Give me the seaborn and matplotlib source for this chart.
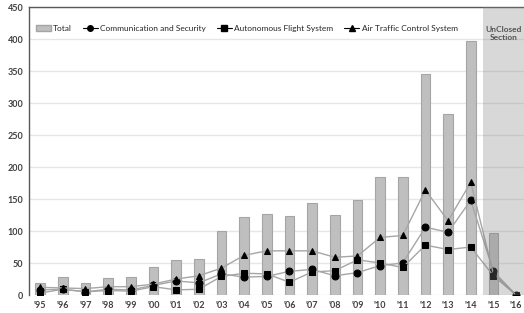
import numpy as np
import pandas as pd
import seaborn as sns
import matplotlib.pyplot as plt
from matplotlib.patches import Patch

# data
years = ["'95", "'96", "'97", "'98", "'99", "'00", "'01", "'02", "'03", "'04", "'05",
         "'06", "'07", "'08", "'09", "'10", "'11", "'12", "'13", "'14", "'15", "'16"]
total = [19, 28, 19, 26, 28, 43, 55, 57, 100, 122, 127, 124, 143, 125, 149, 185, 185,
         345, 283, 397, 97, 0]
comm = [8, 9, 5, 9, 8, 15, 22, 19, 33, 28, 29, 37, 40, 30, 35, 46, 50, 106, 98, 148, 37, 0]
auto = [3, 9, 5, 7, 6, 13, 8, 9, 29, 34, 33, 20, 36, 38, 55, 50, 43, 78, 71, 75, 30, 0]
atc = [12, 11, 10, 13, 13, 17, 25, 30, 42, 62, 69, 69, 69, 59, 61, 90, 93, 164, 116, 176, 33, 0]

sns.set_style("white")
plt.rcParams['font.family'] = ['Lato', 'DejaVu Sans']

fig = plt.figure(figsize=(5.24, 3.13), dpi=100)
ax = fig.add_axes([0.055, 0.0575, 0.945, 0.92])

pos = np.arange(len(years))
df = pd.DataFrame({"pos": pos, "year": years, "Total": total,
                   "Communication and Security": comm,
                   "Autonomous Flight System": auto,
                   "Air Traffic Control System": atc})

sns.barplot(data=df, x="pos", y="Total", native_scale=True, width=0.42,
            color="#bfbfbf", edgecolor="#a5a5a5", linewidth=0.8, saturation=1, ax=ax)

series = [("Communication and Security", "o"),
          ("Autonomous Flight System", "s"),
          ("Air Traffic Control System", "^")]
handles = [Patch(facecolor="#bfbfbf", edgecolor="#a5a5a5", label="Total")]
for name, mk in series:
    sns.lineplot(data=df, x="pos", y=name, color="#a6a6a6", linewidth=1.0,
                 marker=mk, markersize=5, markerfacecolor="black",
                 markeredgecolor="black", ax=ax, zorder=3)
    handles.append(plt.Line2D([], [], color="black", linewidth=0.8, marker=mk,
                              markersize=4, markerfacecolor="black", label=name))

# unclosed section overlay
ax.axvspan(19.55, 22, color="#808080", alpha=0.3, lw=0, zorder=5)
ax.text(20.45, 409, "UnClosed\nSection", ha="center", va="center", fontsize=6,
        fontweight="bold", color="#404040", linespacing=1.1)

ax.set_xlim(-0.5, 21.35)
ax.set_ylim(0, 450)
ax.set_yticks(range(0, 451, 50))
ax.set_xticks(pos)
ax.set_xticklabels(years)
ax.tick_params(axis="both", labelsize=6.5, length=0, pad=4, colors="#404040")
for lab in ax.get_xticklabels() + ax.get_yticklabels():
    lab.set_fontweight("bold")
ax.set_xlabel("")
ax.set_ylabel("")
ax.grid(axis="y", color="#e6e6e6", linewidth=1.0)
ax.set_axisbelow(True)

for s in ["left", "top"]:
    ax.spines[s].set_color("#595959")
    ax.spines[s].set_linewidth(1.0)
ax.spines["right"].set_visible(False)
ax.spines["bottom"].set_visible(False)

ax.legend(handles=handles, loc="center", bbox_to_anchor=(0.44, 0.927), ncol=4,
          frameon=False, fontsize=6, handlelength=1.8, handletextpad=0.3,
          columnspacing=1.3)

fig.savefig("out.png", dpi=100)
